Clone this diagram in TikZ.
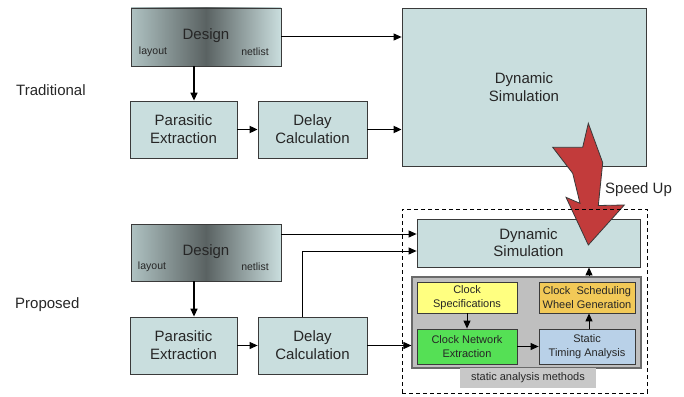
\documentclass[tikz,border=0pt]{standalone}
\usepackage{fontspec}
\setmainfont{Liberation Sans}
\usetikzlibrary{arrows.meta}
\definecolor{boxfill}{HTML}{C9DEDE}
\definecolor{boxline}{HTML}{3A3A3A}
\definecolor{txtcol}{HTML}{262626}
\definecolor{dleft}{HTML}{AFC2C2}
\definecolor{dmid}{HTML}{5A6262}
\definecolor{dright}{HTML}{CADEDE}
\definecolor{grayfill}{HTML}{BFBFBF}
\definecolor{grayline}{HTML}{6A6A6A}
\definecolor{lblfill}{HTML}{C8C8C8}
\definecolor{yelfill}{HTML}{FFFF80}
\definecolor{grnfill}{HTML}{55E055}
\definecolor{orgfill}{HTML}{F2C957}
\definecolor{blufill}{HTML}{B9D1E8}
\definecolor{redfill}{HTML}{C23B3B}
\begin{document}
\begin{tikzpicture}[x=1pt,y=-1pt,
  every node/.style={text=txtcol},
  box/.style={draw=boxline, fill=boxfill, line width=0.8pt, inner sep=0pt, align=center,
    font=\fontsize{15}{18}\selectfont},
  dbox/.style={draw=boxline, line width=0.8pt, inner sep=0pt,
    left color=dleft, right color=dright, middle color=dmid},
  sbox/.style={draw=boxline, line width=0.8pt, inner sep=0pt, align=center,
    font=\fontsize{11}{14}\selectfont},
  big/.style={font=\fontsize{15}{18}\selectfont, inner sep=0pt},
  small/.style={font=\fontsize{10.5}{12}\selectfont, inner sep=0pt},
  arr/.style={-{Triangle[length=8pt,width=7pt]}, line width=1pt, draw=black},
  tarr/.style={-{Triangle[length=8pt,width=7pt]}, line width=1.8pt, draw=black},
]
\useasboundingbox (0,0) rectangle (684,396);

% ---------- labels ----------
\node[big, anchor=west] (trad) at (16,90) {Traditional};
\node[big, anchor=west] (prop) at (15,305) {Proposed};

% ---------- traditional ----------
\node[dbox, minimum width=150, minimum height=58] (d1) at (206,37) {};
\node[big] (d1t) at (206,36) {Design};
\node[small] (d1l) at (153,52) {layout};
\node[small] (d1n) at (255,52) {netlist};
\node[box, minimum width=107, minimum height=57] (p1) at (183.5,129.5) {Parasitic\\Extraction};
\node[box, minimum width=109, minimum height=57] (c1) at (312.5,129.5) {Delay\\Calculation};
\node[box, minimum width=244, minimum height=158] (s1) at (524,87) {Dynamic\\Simulation};

\draw[arr] (d1.east |- 0,37) -- (s1.west |- 0,37);
\draw[arr, line width=1.4pt] ([xshift=-12pt]d1.south) -- ([xshift=-12pt]d1.south |- p1.north);
\draw[tarr] (p1.east) -- (c1.west);
\draw[tarr] (c1.east) -- (s1.west |- c1.east);

% ---------- proposed ----------
\node[dbox, minimum width=150, minimum height=57] (d2) at (206,252.5) {};
\node[big] (d2t) at (206,252) {Design};
\node[small] (d2l) at (152,267) {layout};
\node[small] (d2n) at (255,267) {netlist};
\node[box, minimum width=107, minimum height=57] (p2) at (183.5,345.5) {Parasitic\\Extraction};
\node[box, minimum width=109, minimum height=57] (c2) at (312.5,345.5) {Delay\\Calculation};

\node[box, minimum width=223, minimum height=48, font=\fontsize{15}{17}\selectfont] (s2) at (528.5,243) {Dynamic\\Simulation};
\node[draw=grayline, fill=grayfill, line width=1.2pt, minimum width=229, minimum height=91, inner sep=0pt] (g) at (526.5,322.5) {};
\node[fill=lblfill, minimum width=136, minimum height=20, inner sep=0pt, font=\fontsize{11}{13}\selectfont] (lbl) at (528,378) {static analysis methods};
\node[sbox, fill=yelfill, minimum width=100, minimum height=31] (cs) at (467,297.5) {Clock\\Specifications};
\node[sbox, fill=grnfill, minimum width=100, minimum height=35] (cn) at (467,346.5) {Clock Network\\Extraction};
\node[sbox, fill=orgfill, minimum width=96, minimum height=31] (cw) at (587,297.5) {Clock\ \ Scheduling\\Wheel Generation};
\node[sbox, fill=blufill, minimum width=96, minimum height=35] (st) at (587,346.5) {Static\\Timing Analysis};

\draw[arr] (d2.east |- 0,234) -- (s2.west |- 0,234);
\draw[arr] ([xshift=-10pt]c2.north) |- (s2.west |- 0,251);
\draw[arr, line width=1.4pt] ([xshift=-12pt]d2.south) -- ([xshift=-12pt]d2.south |- p2.north);
\draw[arr] (p2.east) -- (c2.west);
\draw[arr] (c2.east) -- (g.west |- c2.east);
\draw[arr] (cs.south) -- (cn.north);
\draw[arr] (cn.east) -- (st.west);
\draw[arr] ([xshift=2pt]st.north) -- ([xshift=2pt]cw.south);
\draw[arr] ([xshift=2pt]cw.north |- g.north) -- ([xshift=2pt]cw.north |- s2.south);

% ---------- speed up arrow ----------
\draw[fill=redfill, draw=boxline, line width=0.8pt, line join=miter]
  (588.3,123.3) -- (602.7,162.7) -- (598.3,205.5) -- (624.3,205) -- (588.3,245)
  -- (566,197.3) -- (580,203.3) -- (572.7,173.3) -- (552.7,147.3) -- (582.7,147.3) -- cycle;
\node[big, anchor=west] (su) at (605,190) {Speed Up};

% dashed frame
\node[draw=black, dash pattern=on 4pt off 3pt, line width=0.9pt, minimum width=245, minimum height=184, inner sep=0pt] (frame) at (524.5,301) {};
\end{tikzpicture}
\end{document}
